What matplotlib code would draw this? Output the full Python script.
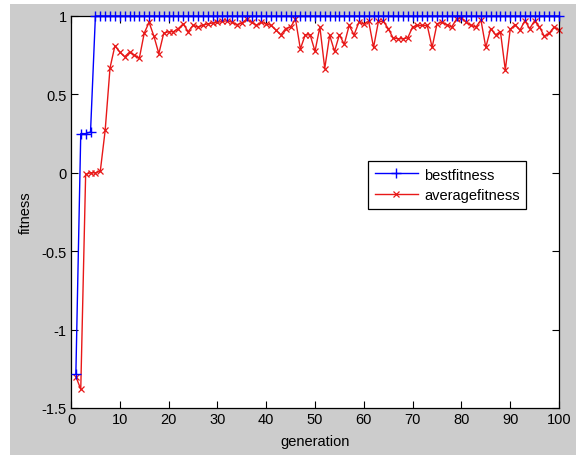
import numpy as np
import matplotlib
matplotlib.use("Agg")
import matplotlib.pyplot as plt
from matplotlib.patches import Rectangle

plt.rcParams['font.family'] = ['Liberation Sans', 'DejaVu Sans']
plt.rcParams['axes.unicode_minus'] = False

generation = list(range(1, 101))

bestfitness = [
    -1.28, 0.25, 0.25, 0.26, 1, 1, 1, 1, 1, 1,
    1, 1, 1, 1, 1, 1, 1, 1, 1, 1,
    1, 1, 1, 1, 1, 1, 1, 1, 1, 1,
    1, 1, 1, 1, 1, 1, 1, 1, 1, 1,
    1, 1, 1, 1, 1, 1, 1, 1, 1, 1,
    1, 1, 1, 1, 1, 1, 1, 1, 1, 1,
    1, 1, 1, 1, 1, 1, 1, 1, 1, 1,
    1, 1, 1, 1, 1, 1, 1, 1, 1, 1,
    1, 1, 1, 1, 1, 1, 1, 1, 1, 1,
    1, 1, 1, 1, 1, 1, 1, 1, 1, 1,
]

averagefitness = [
    -1.30, -1.38, -0.01, 0.00, 0.00, 0.01, 0.27, 0.67, 0.81, 0.77,
    0.74, 0.77, 0.75, 0.73, 0.89, 0.96, 0.87, 0.76, 0.89, 0.90,
    0.90, 0.92, 0.95, 0.90, 0.94, 0.93, 0.94, 0.95, 0.955, 0.96,
    0.965, 0.97, 0.96, 0.945, 0.955, 0.98, 0.96, 0.94, 0.96, 0.95,
    0.94, 0.91, 0.88, 0.92, 0.93, 0.98, 0.79, 0.88, 0.88, 0.775,
    0.93, 0.665, 0.877, 0.775, 0.88, 0.82, 0.94, 0.88, 0.96, 0.95,
    0.966, 0.80, 0.966, 0.966, 0.92, 0.86, 0.855, 0.855, 0.86, 0.93,
    0.94, 0.94, 0.94, 0.80, 0.95, 0.96, 0.945, 0.93, 0.98, 0.99,
    0.96, 0.94, 0.93, 0.975, 0.80, 0.92, 0.88, 0.90, 0.655, 0.915,
    0.945, 0.91, 0.97, 0.92, 0.97, 0.93, 0.87, 0.89, 0.93, 0.91,
]

xticks = [0, 10, 20, 30, 40, 50, 60, 70, 80, 90, 100]
yticks = [-1.5, -1, -0.5, 0, 0.5, 1]
ytick_labels = ['-1.5', '-1', '-0.5', '0', '0.5', '1']

W, H = 580, 456
fig = plt.figure(figsize=(W / 100, H / 100), dpi=100, facecolor='white')
fig.patches.append(Rectangle((10 / W, 0), (576 - 10) / W, (H - 5) / H,
                             transform=fig.transFigure, facecolor='#cccccc',
                             edgecolor='none', zorder=-10))

ax = fig.add_axes([71 / W, 1 - 409 / H, (559 - 71) / W, (409 - 17) / H])
ax.set_facecolor('white')

ax.plot(generation, bestfitness, color='#0000ff', marker='+', markersize=7,
        markeredgewidth=1.0, linewidth=1.0, label='bestfitness', clip_on=False, zorder=3)
ax.plot(generation, averagefitness, color='#e81818', marker='x', markersize=5,
        markeredgewidth=0.9, linewidth=1.0, label='averagefitness', clip_on=False, zorder=2)

ax.set_xlim(0, 100)
ax.set_ylim(-1.5, 1)
ax.set_xticks(xticks)
ax.set_xticklabels([str(t) for t in xticks])
ax.set_yticks(yticks)
ax.set_yticklabels(ytick_labels)
ax.tick_params(direction='in', length=5, width=0.8, top=True, right=True,
               labelsize=10.5, colors='black', pad=3)
for s in ax.spines.values():
    s.set_color('black')
    s.set_linewidth(0.9)

ax.set_xlabel('generation', fontsize=10.5, labelpad=6)
ax.set_ylabel('fitness', fontsize=10.5, labelpad=6)

leg = ax.legend(loc='upper left', bbox_to_anchor=((368 - 71) / 488, 1 - (162 - 17) / 392),
                fontsize=10.5, frameon=True, fancybox=False, edgecolor='black',
                framealpha=1, handlelength=3.0, borderpad=0.45, labelspacing=0.45,
                handletextpad=0.4, borderaxespad=0)
leg.get_frame().set_linewidth(0.9)

fig.savefig('out.png', dpi=100, facecolor=fig.get_facecolor())
